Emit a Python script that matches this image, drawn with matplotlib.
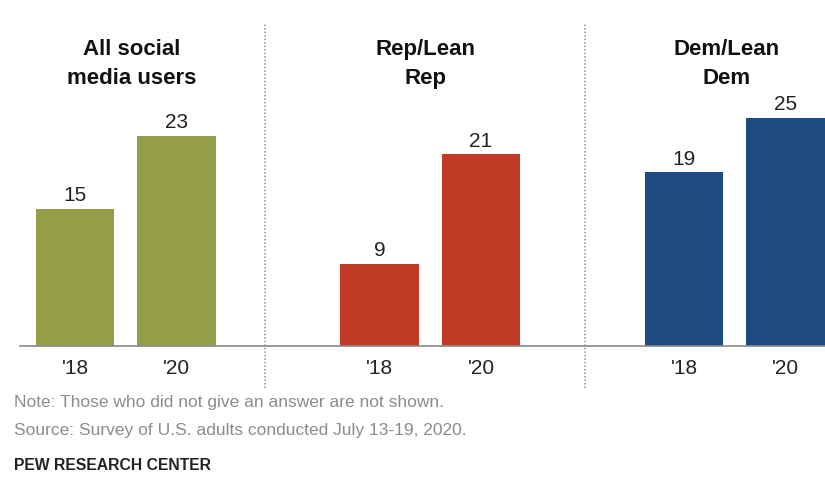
import matplotlib
matplotlib.use("Agg")
import matplotlib.pyplot as plt

# Share of social media users (%) by group, 2018 vs 2020
groups = ["All social\nmedia users", "Rep/Lean\nRep", "Dem/Lean\nDem"]
years = ["'18", "'20"]
values_18 = [15, 9, 19]
values_20 = [23, 21, 25]
colors = ["#949d48", "#c13a26", "#1d4a80"]

note = "Note: Those who did not give an answer are not shown."
source = "Source: Survey of U.S. adults conducted July 13-19, 2020."
credit = "PEW RESEARCH CENTER"

W, H = 825, 482
fig = plt.figure(figsize=(W / 100, H / 100), dpi=100)
fig.patch.set_facecolor("white")

# axes spans full width; baseline at 346 px, 30 units tall
BASE = 346
ax = fig.add_axes([0, (H - BASE) / H, 1, 274 / H])
unit = 101.5
x0 = 75
ax.set_xlim(-x0 / unit, (W - x0) / unit)
ax.set_ylim(0, 30)
ax.axis("off")


def py(px):
    """pixel row -> data y"""
    return (BASE - px) / 274 * 30


def pxx(px):
    """pixel column -> data x"""
    return (px - x0) / unit


group_step = 3.0
bar_w = 0.77
regular = ["Liberation Sans", "Arial", "DejaVu Sans"]

for g, (v18, v20, c) in enumerate(zip(values_18, values_20, colors)):
    for i, v in enumerate([v18, v20]):
        x = g * group_step + i
        ax.bar(x, v, width=bar_w, color=c, zorder=2)
        ax.text(x, v + 0.4, str(v), ha="center", va="bottom", fontsize=15,
                family=regular, color="#222222")
        ax.text(x, py(368), years[i], ha="center", va="center", fontsize=15,
                family=regular, color="#222222", clip_on=False)

# group titles
title_px = [132, 426, 727]
for name, px in zip(groups, title_px):
    ax.text(pxx(px), py(64), name, ha="center", va="center", fontsize=16,
            fontweight="bold", family=regular, color="#111111",
            linespacing=1.45, clip_on=False)

# baseline
ax.plot([pxx(20), pxx(W)], [0, 0], color="#8a8a8a", lw=1.2,
        zorder=3, clip_on=False)

# dotted dividers between groups
for px in [265, 585]:
    ax.plot([pxx(px), pxx(px)], [py(388), py(23)], color="#8f8f8f", lw=1.1,
            linestyle=(0, (1, 1.3)), clip_on=False, zorder=1)

# footer
fig.text(14 / W, 1 - 403 / H, note, ha="left", va="center", fontsize=12.5,
         family=regular, color="#8c8c8c")
fig.text(14 / W, 1 - 430 / H, source, ha="left", va="center", fontsize=12.5,
         family=regular, color="#8c8c8c")
fig.text(14 / W, 1 - 466 / H, credit, ha="left", va="center", fontsize=11.3,
         fontweight="bold", family=regular, color="#222222")

fig.savefig("out.png", dpi=100, facecolor="white")
